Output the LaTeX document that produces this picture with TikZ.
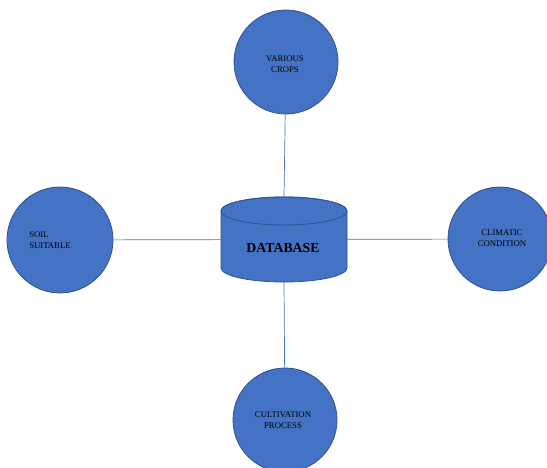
\documentclass[tikz,border=0pt]{standalone}
\usepackage{fontspec}
\setmainfont{Liberation Serif}
\definecolor{fillblue}{HTML}{4472C4}
\definecolor{edgeblue}{HTML}{2F528F}
\definecolor{lineblue}{HTML}{4472C4}
\begin{document}
\begin{tikzpicture}[x=1pt,y=1pt,
  bubble/.style={circle,fill=fillblue,draw=edgeblue,line width=0.8pt,minimum size=#1,inner sep=0pt},
  small/.style={font=\fontsize{8.7}{11.5}\selectfont,align=center,text=black},
  link/.style={draw=lineblue,line width=0.7pt}]
\useasboundingbox (0,0) rectangle (547,468);
% circles
\node[bubble=104] (top) at (286,406) {};
\node[bubble=106] (left) at (60,228) {};
\node[bubble=104] (right) at (500,229) {};
\node[bubble=104] (bottom) at (285,48) {};
% cylinder
\fill[fillblue,draw=edgeblue,line width=0.8pt] (221,257) -- (221,200) arc (180:360:63 and 14) -- (347,257) arc (0:180:63 and 14) -- cycle;
\draw[edgeblue,line width=0.8pt] (284,257) ellipse (63 and 14);
\node[minimum width=126,minimum height=85,inner sep=0pt] (db) at (284,228.5) {};
% texts
\node[font=\fontsize{13.8}{16}\selectfont\bfseries,text=black] (dbtext) at (283,220) {DATABASE};
\node[small] (toptext) at (285,404) {VARIOUS\\CROPS};
\node[small,align=left] (lefttext) at (50,228) {SOIL\\SUITABLE};
\node[small] (righttext) at (502,230) {CLIMATIC\\CONDITION};
\node[small] (bottomtext) at (283,48) {CULTIVATION\\PROCESS};
% connectors
\draw[link] (db.north) -- (top);
\draw[link] (db.south) -- (bottom);
\draw[link] (left) -- (db);
\draw[link] (db) -- (right);
\end{tikzpicture}
\end{document}
